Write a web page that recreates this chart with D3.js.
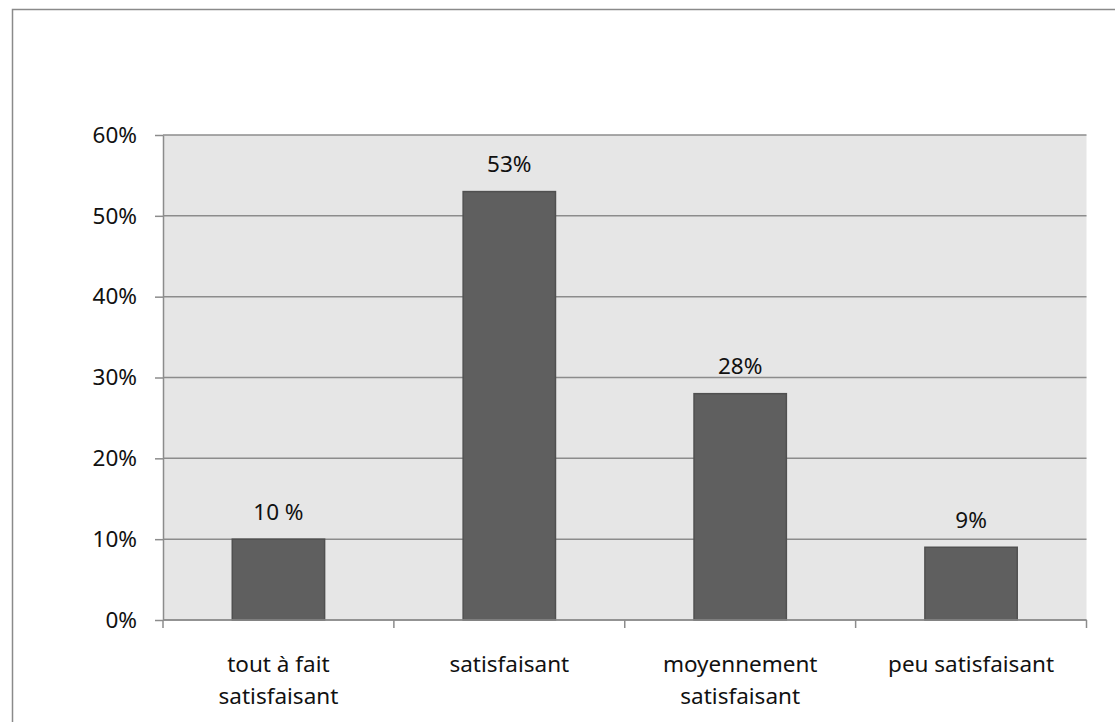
<!DOCTYPE html>
<html>
<head>
<meta charset="utf-8">
<script src="https://cdn.jsdelivr.net/npm/d3@7"></script>
<style>
  html, body { margin: 0; padding: 0; background: #ffffff; }
  svg { display: block; }
  text { font-family: "Noto Sans", "Liberation Sans", sans-serif; fill: #111; }
</style>
</head>
<body>
<svg id="chart" width="1115" height="722"></svg>
<script>
// Satisfaction survey: share of answers per level
const categories = ["tout à fait satisfaisant", "satisfaisant", "moyennement satisfaisant", "peu satisfaisant"];
const categoryLines = [["tout à fait", "satisfaisant"], ["satisfaisant"], ["moyennement", "satisfaisant"], ["peu satisfaisant"]];
const values = [0.10, 0.53, 0.28, 0.09];
const valueLabels = ["10 %", "53%", "28%", "9%"];
const yTicks = [0, 0.1, 0.2, 0.3, 0.4, 0.5, 0.6];
const yTickLabels = ["0%", "10%", "20%", "30%", "40%", "50%", "60%"];

const svg = d3.select("#chart");
const plot = { left: 163, right: 1086.5, top: 135, bottom: 620 };
const gridColor = "#8c8c8c";
const fontSize = 22.5;

// outer chart frame (continues past the right and bottom edges)
svg.append("rect")
  .attr("x", 12.5).attr("y", 9.5)
  .attr("width", 1300).attr("height", 900)
  .attr("fill", "#ffffff")
  .attr("stroke", "#8a8a8a").attr("stroke-width", 1.5);

const x = d3.scaleBand()
  .domain(categories)
  .range([plot.left, plot.right])
  .paddingInner(0.6)
  .paddingOuter(0.3);

const y = d3.scaleLinear()
  .domain([0, 0.6])
  .range([plot.bottom, plot.top]);

// plot background
svg.append("rect")
  .attr("x", plot.left).attr("y", plot.top)
  .attr("width", plot.right - plot.left)
  .attr("height", plot.bottom - plot.top)
  .attr("fill", "#e6e6e6");

// horizontal gridlines
svg.append("g")
  .selectAll("line")
  .data(yTicks)
  .join("line")
  .attr("x1", plot.left).attr("x2", plot.right)
  .attr("y1", d => y(d)).attr("y2", d => y(d))
  .attr("stroke", gridColor).attr("stroke-width", 1.5);

// y axis with outward ticks
const yAxis = d3.axisLeft(y)
  .tickValues(yTicks)
  .tickFormat((d, i) => yTickLabels[i])
  .tickSize(8)
  .tickSizeOuter(0)
  .tickPadding(18);

const gy = svg.append("g")
  .attr("transform", `translate(${plot.left},0)`)
  .call(yAxis);
gy.select(".domain").attr("stroke", gridColor).attr("stroke-width", 1.5);
gy.selectAll(".tick line").attr("stroke", gridColor).attr("stroke-width", 1.5);
gy.selectAll(".tick text")
  .attr("font-size", fontSize)
  .attr("font-family", "'Noto Sans', sans-serif")
  .attr("fill", "#111");

// bars
svg.append("g")
  .selectAll("rect")
  .data(values)
  .join("rect")
  .attr("x", (d, i) => x(categories[i]))
  .attr("y", d => y(d))
  .attr("width", x.bandwidth())
  .attr("height", d => y(0) - y(d))
  .attr("fill", "#5f5f5f")
  .attr("stroke", "#505050")
  .attr("stroke-width", 1.5);

// value labels above bars
svg.append("g")
  .selectAll("text")
  .data(values)
  .join("text")
  .attr("x", (d, i) => x(categories[i]) + x.bandwidth() / 2)
  .attr("y", d => y(d) - 19.5)
  .attr("text-anchor", "middle")
  .attr("font-size", fontSize)
  .text((d, i) => valueLabels[i]);

// x axis line and category boundary ticks
const step = x.step();
const gx = svg.append("g");
gx.append("line")
  .attr("x1", plot.left).attr("x2", plot.right)
  .attr("y1", y(0)).attr("y2", y(0))
  .attr("stroke", gridColor).attr("stroke-width", 1.5);
gx.selectAll("line.tick")
  .data(d3.range(categories.length + 1))
  .join("line")
  .attr("class", "tick")
  .attr("x1", i => plot.left + i * step)
  .attr("x2", i => plot.left + i * step)
  .attr("y1", y(0)).attr("y2", y(0) + 8)
  .attr("stroke", gridColor).attr("stroke-width", 1.5);

// category labels, wrapped on two lines where needed
const labels = svg.append("g")
  .selectAll("text")
  .data(categories)
  .join("text")
  .attr("x", d => x(d) + x.bandwidth() / 2)
  .attr("y", 672)
  .attr("text-anchor", "middle")
  .attr("font-size", fontSize);
labels.each(function(d, i) {
  const t = d3.select(this);
  categoryLines[i].forEach((line, j) => {
    t.append("tspan")
      .attr("x", x(d) + x.bandwidth() / 2)
      .attr("dy", j === 0 ? 0 : 31.5)
      .text(line);
  });
});
</script>
</body>
</html>
